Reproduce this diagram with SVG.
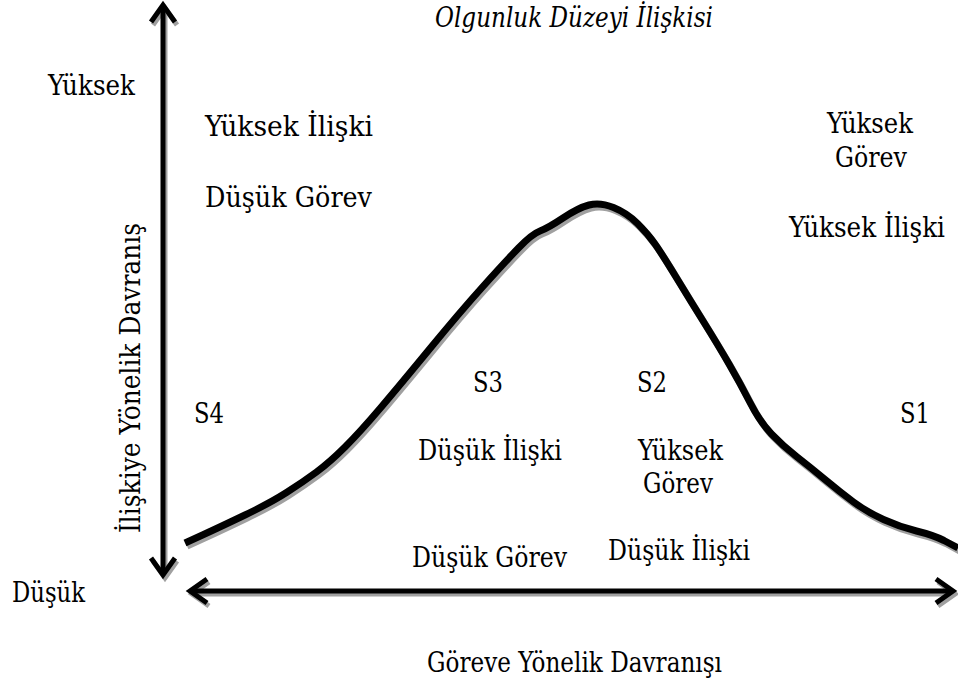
<svg xmlns="http://www.w3.org/2000/svg" xmlns:xlink="http://www.w3.org/1999/xlink" width="958" height="681" viewBox="0 0 958 681">
<style>
  text { font-family: "DejaVu Serif", serif; font-size: 27px; fill: #000; }
  .it { font-style: italic; }
  .ln { fill: none; stroke-linecap: butt; stroke-linejoin: miter; }
  .main { stroke: #000; }
  .shadow { stroke: #a0a0a0; }
</style>
<defs>
  <path id="curve" d="M185,543 L202.5,535 Q220,527 245,515 Q270,503 286.5,492.5 Q303,482 316.5,472 Q330,462 345,447 Q360,432 380,408.5 Q400,385 430,348.5 Q460,312 482.5,287 Q505,262 518.5,248 Q532,234 540,231 Q548,228 563,218 Q578,208 589,205 Q600,202 613.5,207.5 Q627,213 637.5,223.5 Q648,234 655,244 Q662,254 676,277 Q690,300 704,322.5 Q718,345 729,364 Q740,383 750,402.5 Q760,422 771.5,434 Q783,446 796.5,456.5 Q810,467 825,479.5 Q840,492 853.5,502 Q867,512 883.5,519.5 Q900,527 916.5,531 Q933,535 944,540.5 L958,548"/>
  <g id="axes">
    <line x1="163" y1="6" x2="163" y2="574"/>
    <polyline points="151,22 163,5 175,22"/>
    <polyline points="151,558 163,575 175,558"/>
    <line x1="192" y1="591" x2="950" y2="591"/>
    <polyline points="207,579 190,591 207,603"/>
    <polyline points="936,579 953,591 936,603"/>
  </g>
</defs>
<g id="connectors">
  <use xlink:href="#axes" class="ln shadow" stroke-width="5" transform="translate(2,3)"/>
  <use xlink:href="#axes" class="ln main" stroke-width="5"/>
  <use xlink:href="#curve" class="ln shadow" stroke-width="7" transform="translate(2,3)"/>
  <use xlink:href="#curve" class="ln main" stroke-width="7"/>
</g>
<g id="title"><text class="it" x="435" y="27" textLength="278" lengthAdjust="spacingAndGlyphs">Olgunluk Düzeyi İlişkisi</text></g>
<g id="y-high"><text x="48" y="95" textLength="87" lengthAdjust="spacingAndGlyphs">Yüksek</text></g>
<g id="y-low"><text x="12" y="602" textLength="73" lengthAdjust="spacingAndGlyphs">Düşük</text></g>
<g id="y-label"><text transform="translate(140,533) rotate(-90)" x="0" y="0" textLength="310" lengthAdjust="spacingAndGlyphs">İlişkiye Yönelik Davranış</text></g>
<g id="x-label"><text x="427" y="672" textLength="295" lengthAdjust="spacingAndGlyphs">Göreve Yönelik Davranışı</text></g>
<g id="s4">
  <text x="194" y="423" textLength="30" lengthAdjust="spacingAndGlyphs">S4</text>
  <text x="205" y="136" textLength="168" lengthAdjust="spacingAndGlyphs">Yüksek İlişki</text>
  <text x="205" y="207" textLength="167" lengthAdjust="spacingAndGlyphs">Düşük Görev</text>
</g>
<g id="s3">
  <text x="473" y="392" textLength="30" lengthAdjust="spacingAndGlyphs">S3</text>
  <text x="418" y="460" textLength="144" lengthAdjust="spacingAndGlyphs">Düşük İlişki</text>
  <text x="412" y="567" textLength="155" lengthAdjust="spacingAndGlyphs">Düşük Görev</text>
</g>
<g id="s2">
  <text x="637" y="392" textLength="30" lengthAdjust="spacingAndGlyphs">S2</text>
  <text x="638" y="460" textLength="85" lengthAdjust="spacingAndGlyphs">Yüksek</text>
  <text x="643" y="493" textLength="70" lengthAdjust="spacingAndGlyphs">Görev</text>
  <text x="608" y="560" textLength="142" lengthAdjust="spacingAndGlyphs">Düşük İlişki</text>
</g>
<g id="s1">
  <text x="900" y="423" textLength="30" lengthAdjust="spacingAndGlyphs">S1</text>
  <text x="827" y="133" textLength="86" lengthAdjust="spacingAndGlyphs">Yüksek</text>
  <text x="835" y="167" textLength="72" lengthAdjust="spacingAndGlyphs">Görev</text>
  <text x="789" y="237" textLength="156" lengthAdjust="spacingAndGlyphs">Yüksek İlişki</text>
</g>
</svg>
